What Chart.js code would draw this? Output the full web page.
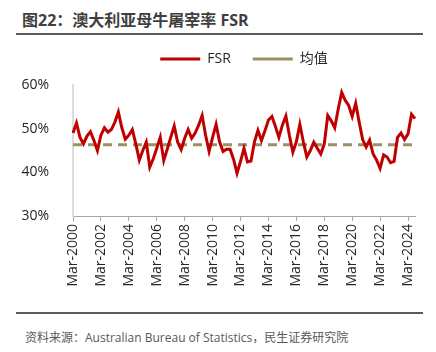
<!DOCTYPE html>
<html>
<head>
<meta charset="utf-8">
<script src="https://cdn.jsdelivr.net/npm/chart.js@4.4.1/dist/chart.umd.min.js"></script>
<style>
  body { margin: 0; width: 436px; height: 352px; background: #fff; position: relative; overflow: hidden;
         font-family: "Open Sans", "Noto Sans CJK SC", sans-serif; }
  #title { position: absolute; left: 22px; top: 7px; font-size: 16px; font-weight: bold; color: #3f3f3f; white-space: nowrap; }
  .rule { position: absolute; left: 16px; width: 407px; height: 2px; background: #5a5a5a; }
  #chartBox { position: absolute; left: 0; top: 30px; width: 436px; height: 276px; }
  #source { position: absolute; left: 25px; top: 328px; font-size: 12px; color: #595959; white-space: nowrap; }
</style>
</head>
<body>
<div id="title">图22：澳大利亚母牛屠宰率 FSR</div>
<div class="rule" style="top:33px"></div>
<div id="chartBox"><canvas id="fsrChart" width="436" height="276"></canvas></div>
<div class="rule" style="top:312px"></div>
<div id="source">资料来源：Australian Bureau of Statistics，民生证券研究院</div>

<script>
// quarterly data, Mar-2000 .. Sep-2024
const quarterMonths = ["Mar", "Jun", "Sep", "Dec"];
const firstYear = 2000;

const fsrValues = [
  49.0, 51.3, 48.0, 46.5, 48.3, 49.3, 47.3, 45.0, 48.5, 50.2,
  49.2, 49.8, 51.5, 53.8, 50.2, 47.6, 48.5, 49.8, 46.5, 42.8,
  45.0, 46.9, 41.2, 43.1, 45.5, 48.0, 42.7, 45.3, 48.0, 50.6,
  46.9, 45.2, 47.8, 49.8, 47.8, 49.0, 50.8, 53.0, 48.5, 44.8,
  48.0, 51.0, 47.0, 44.8, 45.3, 45.3, 43.0, 39.8, 42.5, 45.5,
  42.4, 42.6, 47.0, 49.6, 47.3, 49.5, 52.0, 52.8, 50.5, 48.0,
  50.8, 52.9, 48.5, 44.6, 47.0, 51.0, 47.0, 43.5, 45.0, 46.9,
  45.5, 44.2, 46.5, 53.0, 51.8, 50.2, 54.5, 58.3, 56.5, 55.3,
  52.8, 55.8, 51.5, 47.5, 45.8, 47.4, 44.2, 42.8, 40.9, 44.0,
  43.5, 42.2, 42.5, 48.0, 49.0, 47.5, 48.8, 53.3, 52.3
];
const meanValue = 46.3;

const yTicks = [30, 40, 50, 60];
const labelEvery = 8; // one label every two years

const labels = fsrValues.map((v, i) => `${quarterMonths[i % 4]}-${firstYear + Math.floor(i / 4)}`);

// extra room under the legend, legend items stay where they are
const legendGap = {
  id: "legendGap",
  beforeLayout(chart) {
    const lg = chart.legend;
    if (!lg || lg._gapPatched) return;
    const fit = lg.fit;
    lg.fit = function () {
      fit.call(this);
      this.height += 9;
    };
    lg._gapPatched = true;
  },
};

const ctx = document.getElementById("fsrChart").getContext("2d");

new Chart(ctx, {
  type: "line",
  data: {
    labels: labels,
    datasets: [
      {
        label: "FSR",
        data: fsrValues,
        borderColor: "#c00000",
        backgroundColor: "#c00000",
        borderWidth: 3,
        pointRadius: 0,
        pointStyle: "line",
        tension: 0,
        fill: false,
      },
      {
        label: "均值",
        data: [
          { x: labels[0], y: meanValue },
          { x: labels[labels.length - 1], y: meanValue },
        ],
        borderColor: "#9c9062",
        backgroundColor: "#9c9062",
        borderWidth: 3,
        borderDash: [9, 6],
        pointRadius: 0,
        pointStyle: "line",
        fill: false,
      },
    ],
  },
  plugins: [legendGap],
  options: {
    responsive: false,
    animation: false,
    layout: { padding: { left: 0, right: 21, top: 0, bottom: 0 } },
    plugins: {
      tooltip: { enabled: false },
      legend: {
        position: "top",
        fullSize: false,
        labels: {
          usePointStyle: true,
          pointStyleWidth: 40,
          padding: 22,
          color: "#262626",
          font: { family: "'Open Sans', 'Noto Sans CJK SC', sans-serif", size: 14 },
        },
      },
    },
    scales: {
      x: {
        type: "category",
        offset: false,
        grid: {
          display: true,
          drawOnChartArea: false,
          drawTicks: true,
          tickLength: 5,
          color: (c) => (c.index % labelEvery === 0 ? "#a6a6a6" : "rgba(0,0,0,0)"),
        },
        border: { color: "#a6a6a6", width: 1 },
        ticks: {
          autoSkip: false,
          minRotation: 90,
          maxRotation: 90,
          padding: 3,
          color: "#262626",
          font: { family: "'Open Sans', sans-serif", size: 14 },
          callback: (v, i) => (i % labelEvery === 0 ? labels[i] : ""),
        },
        afterFit: (s) => { s.height = 90; },
      },
      y: {
        min: yTicks[0],
        max: yTicks[yTicks.length - 1],
        grid: { display: false },
        border: { color: "#dcdcdc", width: 2 },
        afterBuildTicks: (s) => { s.ticks = yTicks.map((v) => ({ value: v })); },
        ticks: {
          padding: 16,
          color: "#262626",
          font: { family: "'Open Sans', sans-serif", size: 14 },
          callback: (v) => v + "%",
        },
        afterFit: (s) => { s.width = 73; },
      },
    },
  },
});
</script>
</body>
</html>
